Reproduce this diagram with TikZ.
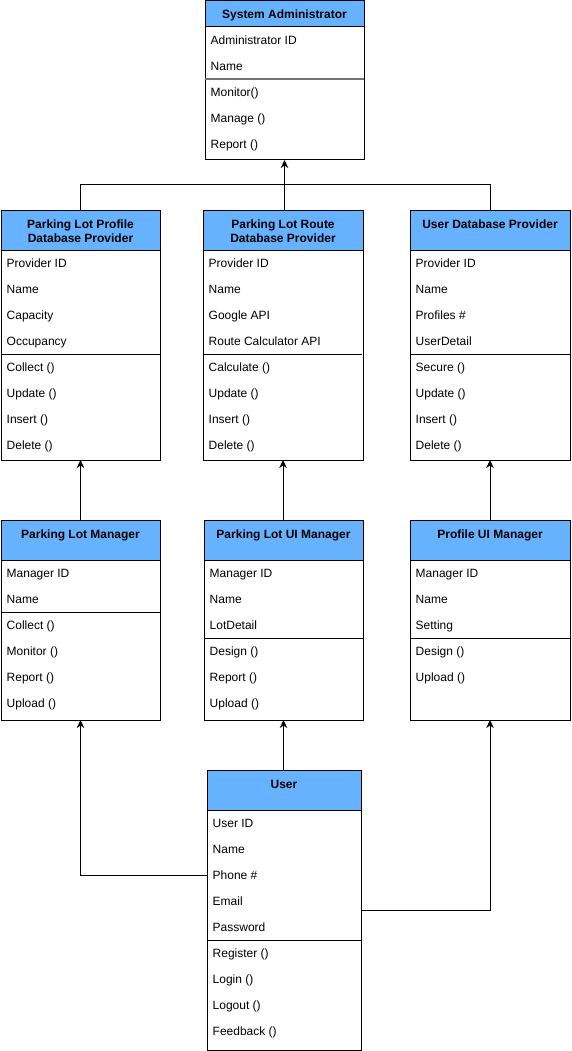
\documentclass[tikz,border=0pt]{standalone}
\usepackage{fontspec}
\setmainfont{Liberation Sans}
\usetikzlibrary{arrows.meta}
\definecolor{hdrblue}{HTML}{66B2FF}
\tikzset{
  classbox/.style={draw=black, line width=1pt, fill=white, anchor=north west, inner sep=0pt, outer sep=0pt},
  hdrbox/.style={draw=black, line width=1pt, fill=hdrblue, anchor=north west, inner sep=0pt, outer sep=0pt},
  rowtxt/.style={anchor=base west, inner sep=0pt, font=\fontsize{12}{14}\selectfont},
  titletxt/.style={anchor=base, inner sep=0pt, font=\fontsize{12}{14}\selectfont\bfseries},
  sepline/.style={line width=1pt, black},
  graysep/.style={line width=1.6pt, black!55},
  link/.style={line width=1pt, -{Stealth[length=8pt,width=7.5pt,inset=2.5pt]}},
}
% #1 name, #2 left x, #3 right x, #4 header bottom y, #5 attrs, #6 number of attrs, #7 methods, #8 sep style
\newcommand\classrows[8]{%
  \foreach \t [count=\i from 0] in {#5} {\node[rowtxt] (#1-a\i) at ({#2+5.5},{#4+17.9+26*\i}) {\t};}
  \draw[#8] (#2,{#4+26*#6}) -- (#3,{#4+26*#6});
  \foreach \t [count=\i from 0] in {#7} {\node[rowtxt] (#1-m\i) at ({#2+5.5},{#4+26*#6+17.9+26*\i}) {\t};}
}
\begin{document}
\begin{tikzpicture}[x=1pt,y=-1pt]
\useasboundingbox (0,0) rectangle (572,1051);

% System Administrator
\node[classbox, minimum width=159pt, minimum height=159pt] (sys) at (205,1) {};
\node[hdrbox, minimum width=159pt, minimum height=26pt] (sys-h) at (205,1) {};
\node[titletxt] (sys-t) at (284.5,19) {System Administrator};
\classrows{sys}{205}{364}{27}{Administrator ID,Name}{2}{Monitor(),Manage (),Report ()}{graysep}

% Parking Lot Profile Database Provider
\node[classbox, minimum width=159pt, minimum height=250pt] (plp) at (1,210) {};
\node[hdrbox, minimum width=159pt, minimum height=40pt] (plp-h) at (1,210) {};
\node[titletxt] (plp-t1) at (80.5,228.3) {Parking Lot Profile};
\node[titletxt] (plp-t2) at (80.5,242.3) {Database Provider};
\classrows{plp}{1}{160}{250}{Provider ID,Name,Capacity,Occupancy}{4}{Collect (),Update (),Insert (),Delete ()}{sepline}

% Parking Lot Route Database Provider
\node[classbox, minimum width=160pt, minimum height=250pt] (plr) at (203,210) {};
\node[hdrbox, minimum width=160pt, minimum height=40pt] (plr-h) at (203,210) {};
\node[titletxt] (plr-t1) at (283,228.3) {Parking Lot Route};
\node[titletxt] (plr-t2) at (283,242.3) {Database Provider};
\classrows{plr}{203}{362}{250}{Provider ID,Name,Google API,Route Calculator API}{4}{Calculate (),Update (),Insert (),Delete ()}{sepline}

% User Database Provider
\node[classbox, minimum width=160pt, minimum height=250pt] (udp) at (410,210) {};
\node[hdrbox, minimum width=160pt, minimum height=40pt] (udp-h) at (410,210) {};
\node[titletxt] (udp-t) at (490,228.3) {User Database Provider};
\classrows{udp}{410}{570}{250}{Provider ID,Name,Profiles \#,UserDetail}{4}{Secure (),Update (),Insert (),Delete ()}{sepline}

% Parking Lot Manager
\node[classbox, minimum width=159pt, minimum height=200pt] (plm) at (1,520) {};
\node[hdrbox, minimum width=159pt, minimum height=40pt] (plm-h) at (1,520) {};
\node[titletxt] (plm-t) at (80.5,538.6) {Parking Lot Manager};
\classrows{plm}{1}{160}{560}{Manager ID,Name}{2}{Collect (),Monitor (),Report (),Upload ()}{sepline}

% Parking Lot UI Manager
\node[classbox, minimum width=159pt, minimum height=200pt] (pum) at (204,520) {};
\node[hdrbox, minimum width=159pt, minimum height=40pt] (pum-h) at (204,520) {};
\node[titletxt] (pum-t) at (283.5,538.6) {Parking Lot UI Manager};
\classrows{pum}{204}{363}{560}{Manager ID,Name,LotDetail}{3}{Design (),Report (),Upload ()}{sepline}

% Profile UI Manager
\node[classbox, minimum width=160pt, minimum height=200pt] (prm) at (410,520) {};
\node[hdrbox, minimum width=160pt, minimum height=40pt] (prm-h) at (410,520) {};
\node[titletxt] (prm-t) at (490,538.6) {Profile UI Manager};
\classrows{prm}{410}{570}{560}{Manager ID,Name,Setting}{3}{Design (),Upload ()}{sepline}

% User
\node[classbox, minimum width=154pt, minimum height=280pt] (user) at (207,770) {};
\node[hdrbox, minimum width=154pt, minimum height=40pt] (user-h) at (207,770) {};
\node[titletxt] (user-t) at (284,788.6) {User};
\classrows{user}{207}{361}{810}{User ID,Name,Phone \#,Email,Password}{5}{Register (),Login (),Logout (),Feedback ()}{sepline}

% connectors
\coordinate (jtop) at (284.5,185);
\coordinate (uleft) at (207,875);
\coordinate (uright) at (361,910);

\draw[line width=1pt] (plp-h.north) |- (jtop);
\draw[line width=1pt] (udp-h.north) |- (jtop);
\draw[link] (sys.south |- plr-h.north) -- (sys.south);

\draw[link] (plm-h.north) -- (plp.south);
\draw[link] (plr.south |- pum-h.north) -- (plr.south);
\draw[link] (prm-h.north) -- (udp.south);

\draw[link] (pum.south |- user-h.north) -- (pum.south);
\draw[link] (uleft) -| (plm.south);
\draw[link] (uright) -| (prm.south);
\end{tikzpicture}
\end{document}
